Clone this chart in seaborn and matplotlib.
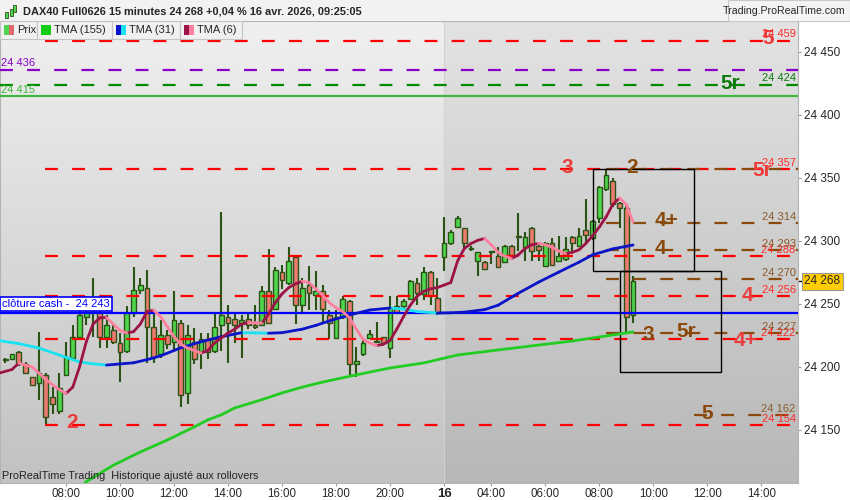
"""
DAX40 Full0626 - bougies 15 minutes avec TMA et niveaux.
"""

import numpy as np
import pandas as pd
import matplotlib
matplotlib.use('Agg')
import matplotlib.pyplot as plt
import seaborn as sns
from matplotlib.patches import Rectangle
from matplotlib.transforms import blended_transform_factory

# ---- données ----
ouverture = [24206, 24206, 24212, 24202, 24192, 24187, 24194, 24176, 24165,
             24194, 24207, 24224, 24240, 24245, 24244, 24224, 24229, 24219, 24213,
             24243, 24261, 24263, 24232, 24210, 24225, 24220, 24235, 24179, 24220,
             24212, 24222, 24213, 24233, 24240, 24238, 24235, 24238, 24233, 24233,
             24260, 24246, 24275, 24267, 24287, 24249, 24265, 24257, 24260, 24241,
             24223, 24240, 24252, 24202, 24210, 24223, 24220, 24224, 24215, 24248,
             24248, 24254, 24267, 24258, 24275, 24255, 24287, 24298, 24311, 24310,
             24294, 24284, 24283, 24291, 24288, 24283, 24296, 24303, 24295, 24310,
             24296, 24280, 24298, 24284, 24286, 24303, 24296, 24309, 24302, 24318,
             24341, 24348, 24330, 24326, 24241]
haut = [24207, 24210, 24213, 24204, 24192, 24228, 24195, 24184, 24195,
        24220, 24233, 24256, 24256, 24271, 24248, 24241, 24235, 24227, 24248,
        24279, 24271, 24277, 24245, 24237, 24229, 24260, 24237, 24233, 24231,
        24227, 24227, 24244, 24323, 24249, 24244, 24241, 24243, 24249, 24264,
        24294, 24279, 24281, 24295, 24289, 24271, 24280, 24276, 24265, 24245,
        24245, 24256, 24253, 24216, 24222, 24229, 24236, 24224, 24256, 24256,
        24254, 24269, 24271, 24279, 24276, 24271, 24319, 24309, 24320, 24310,
        24296, 24291, 24284, 24292, 24295, 24297, 24297, 24322, 24307, 24311,
        24298, 24299, 24302, 24304, 24303, 24304, 24310, 24333, 24317, 24344,
        24356, 24350, 24331, 24328, 24272]
bas = [24203, 24206, 24201, 24195, 24186, 24174, 24153, 24163, 24163,
       24193, 24206, 24223, 24233, 24224, 24215, 24215, 24218, 24188, 24211,
       24240, 24258, 24203, 24203, 24207, 24214, 24213, 24168, 24171, 24202,
       24198, 24206, 24211, 24213, 24203, 24219, 24207, 24230, 24230, 24233,
       24235, 24245, 24262, 24265, 24234, 24243, 24245, 24245, 24236, 24222,
       24222, 24238, 24194, 24192, 24209, 24222, 24219, 24218, 24207, 24243,
       24247, 24253, 24249, 24253, 24249, 24241, 24276, 24297, 24310, 24293,
       24292, 24272, 24277, 24282, 24279, 24283, 24289, 24292, 24284, 24284,
       24284, 24280, 24280, 24283, 24284, 24292, 24295, 24299, 24301, 24314,
       24340, 24327, 24310, 24227, 24235]
cloture = [24205.5, 24210, 24202, 24195, 24186, 24195, 24160, 24171, 24183,
           24208, 24224, 24241, 24244, 24252, 24224, 24233, 24220, 24212, 24243,
           24261, 24265, 24232, 24208, 24225, 24218, 24237, 24178, 24225, 24206,
           24222, 24212, 24232, 24241, 24235, 24233, 24237, 24233, 24232, 24260,
           24235, 24277, 24269, 24284, 24249, 24263, 24259, 24260, 24246, 24235,
           24240, 24254, 24202, 24205, 24219, 24226, 24221, 24219, 24247, 24244,
           24252, 24268, 24259, 24275, 24256, 24243, 24298, 24307, 24318, 24298,
           24294.5, 24291, 24278, 24292, 24279, 24296, 24289, 24304, 24303, 24292,
           24293, 24298, 24281, 24288, 24294, 24298, 24304, 24305, 24316, 24343,
           24352, 24329, 24326, 24240, 24268]
premiere_barre = -9   # bougie de 07:45 le 15

# TMA (6)
tma6_x = [-10, -8, -7, -5, -3, -1, 0, 1, 2, 3, 4, 5, 6, 7, 8, 9, 10, 11, 12, 13,
          14, 15, 16, 17, 18, 19, 20, 21, 22, 23, 24, 25, 26, 27, 28, 29, 30, 31,
          32, 33, 34, 35, 36, 37, 38, 39, 40, 41, 42, 43, 44, 45, 46, 47, 48, 49,
          50, 51, 52, 53, 54, 55, 56, 57, 58, 59, 60, 61, 62, 63, 64, 65, 66, 67,
          68, 69, 70, 71, 72, 73, 74, 75, 76, 77, 78, 79, 80, 81, 82, 83, 84]
tma6_y = [24195, 24198, 24203, 24200, 24190, 24182, 24179, 24184, 24200, 24220,
          24234, 24239, 24239.2, 24234, 24229, 24227, 24228, 24234, 24244, 24245,
          24240, 24232, 24224, 24218, 24215, 24213, 24211, 24213, 24219, 24223,
          24227, 24230, 24234, 24235.2, 24235, 24234.8, 24242, 24251, 24258, 24263,
          24266, 24268, 24267, 24262, 24257, 24251, 24247, 24244, 24239, 24230,
          24222, 24219, 24217, 24218, 24221, 24230, 24240, 24249, 24256, 24260,
          24262, 24263, 24265, 24267, 24284, 24294, 24298, 24300.5, 24302, 24297,
          24291, 24288, 24286, 24289, 24294, 24297, 24298, 24297, 24295, 24292,
          24290, 24291, 24293, 24298, 24304, 24311, 24319, 24329, 24334, 24329,
          24315]

# TMA (31)
tma31_x = [-10, -7, -4, -1, 2, 4, 6, 8, 10, 12, 14, 17, 20, 23, 26, 28, 30, 32,
           35, 37, 39, 42, 45, 48, 50, 52, 55, 57, 59, 62, 64, 67, 70, 73, 76, 78,
           81, 84]
tma31_y = [24221, 24218.5, 24215, 24209.5, 24204, 24202.5, 24201.5, 24202.4,
           24203.3, 24205.8, 24208.8, 24215.2, 24220, 24224, 24227.2, 24227.0,
           24226.8, 24227.2, 24230, 24233, 24236.5, 24241.3, 24245.2, 24246.8,
           24246.0, 24244.0, 24242.8, 24243.0, 24243.5, 24245.5, 24249, 24258.5,
           24267.3, 24275.3, 24283.2, 24289, 24293.7, 24296.8]

# TMA (155)
tma155_x = [1, 3, 7, 11, 15, 19, 21, 23, 25, 29, 32, 35, 38, 43, 48, 53, 58, 64,
            75, 84]
tma155_y = [24098, 24109, 24122, 24132.5, 24142, 24152.4, 24158, 24162, 24167.5,
            24174, 24179.4, 24184, 24188, 24193.7, 24199.2, 24203.2, 24209.5,
            24213.5, 24220.6, 24227.8]

# niveaux
niveaux_rouges = [24459, 24357, 24288, 24256, 24222, 24154]
niveaux_bruns = [24357, 24314, 24293, 24270, 24227, 24162]
debut_bruns = [80, 80, 80, 80, 80, 93]
niveau_violet = 24436
niveau_vert_tirets = 24424
niveau_vert = 24415
cloture_cash = 24243
dernier_cours = 24268

# étiquettes de zones: (texte, couleur, barre, prix)
etiquettes = [('2', 'rouge', 0.9, 24156), ('3', 'rouge', 74.2, 24358),
              ('2', 'brun', 83.9, 24358), ('5r', 'rouge', 103.1, 24356),
              ('5', 'rouge', 104.0, 24461), ('5r', 'vert', 98.4, 24425),
              ('4+', 'brun', 88.9, 24316), ('4', 'brun', 88.0, 24294),
              ('4', 'rouge', 101.0, 24257), ('3', 'brun', 86.2, 24226),
              ('5r', 'brun', 91.9, 24228), ('4+', 'rouge', 100.7, 24221),
              ('5', 'brun', 95.0, 24163)]

# zones rectangulaires: (barre début, barre fin, prix bas, prix haut)
zones = [(78.1, 93.0, 24276, 24357), (82.1, 97.0, 24196, 24276)]

heures_pos = [0, 8, 16, 24, 32, 40, 48, 56, 63, 71, 79, 87, 95, 103]
heures_txt = ['08:00', '10:00', '12:00', '14:00', '16:00', '18:00', '20:00',
              '16', '04:00', '06:00', '08:00', '10:00', '12:00', '14:00']
prix_ticks = [24150, 24200, 24250, 24300, 24350, 24400, 24450]

couleurs = {'rouge': '#ff0000', 'brun': '#8a4a0c', 'vert': '#007a00'}
couleurs_txt = {'rouge': '#ec3b3b', 'brun': '#8a4a0c', 'vert': '#0a7a0a'}

sns.set_style('white')
plt.rcParams['font.family'] = ['Liberation Sans', 'DejaVu Sans']

W, H = 850, 500
fig = plt.figure(figsize=(W / 100, H / 100), dpi=100)
fig.patch.set_facecolor('white')
ax = fig.add_axes([0, 17 / H, 798 / W, 462 / H])

x_min, x_max = -9.78, 108.44
y_min, y_max = 24107.9, 24474.6
separation = 56.0

# fond en dégradé (jour précédent plus clair)
grad = np.linspace(0, 1, 200)[:, None]
gauche = (0.94 - 0.18 * grad) * np.ones((1, 2))
droite = (0.89 - 0.17 * grad) * np.ones((1, 2))
ax.imshow(np.dstack([gauche] * 3), extent=[x_min, separation, y_min, y_max],
          aspect='auto', origin='upper', zorder=0, interpolation='bilinear')
ax.imshow(np.dstack([droite] * 3), extent=[separation, x_max, y_min, y_max],
          aspect='auto', origin='upper', zorder=0, interpolation='bilinear')
ax.axvline(separation, color='#d2d2d2', lw=0.8, zorder=0.5)

# bougies
barres = np.arange(premiere_barre, premiere_barre + len(cloture))
o = np.array(ouverture)
c = np.array(cloture)
meche = '#2b5414'
ax.vlines(barres, bas, haut, color=meche, lw=1.5, zorder=2)
bas_corps = np.minimum(o, c)
haut_corps = np.maximum(np.abs(c - o), 0.8)
coul_corps = np.where(c >= o, '#4fd64f', '#ec7a72')
ax.bar(barres, haut_corps, bottom=bas_corps, width=0.72, color=coul_corps,
       edgecolor=meche, linewidth=1.0, zorder=3)

# niveaux horizontaux
tirets = (0, (5.8, 6.4))
for niv in niveaux_rouges:
    ax.hlines(niv, -3.1, x_max, colors=couleurs['rouge'], linestyles=[tirets], lw=1.6, zorder=4)
for niv, deb in zip(niveaux_bruns, debut_bruns):
    ax.hlines(niv, deb, x_max, colors=couleurs['brun'], linestyles=[tirets], lw=1.6, zorder=4)
ax.hlines(niveau_violet, x_min, x_max, colors='#8a00c8', linestyles=[tirets], lw=1.6, zorder=4)
ax.hlines(niveau_vert_tirets, x_min, x_max, colors='#008a00', linestyles=[tirets], lw=1.6, zorder=4)
ax.axhline(niveau_vert, color='#3cb83c', lw=1.6, zorder=4)
ax.axhline(cloture_cash, color='#0000ff', lw=1.6, zorder=4)

for x0, x1, p0, p1 in zones:
    ax.add_patch(Rectangle((x0, p0), x1 - x0, p1 - p0, fill=False,
                           ec='black', lw=1.0, zorder=4.5))


# moyennes mobiles en tronçons colorés selon la pente
def troncons(xs, ys, c_hausse, c_baisse):
    lignes = []
    for k in range(len(xs) - 1):
        col = c_hausse if ys[k + 1] >= ys[k] else c_baisse
        lignes.append((k, xs[k], ys[k], col))
        lignes.append((k, xs[k + 1], ys[k + 1], col))
    return pd.DataFrame(lignes, columns=['seg', 'x', 'y', 'couleur'])


for xs, ys, ch, cb in [(tma155_x, tma155_y, '#22cc22', '#22cc22'),
                       (tma31_x, tma31_y, '#0a14c8', '#19e3f2'),
                       (tma6_x, tma6_y, '#9c1447', '#ff7f9f')]:
    df = troncons(xs, ys, ch, cb)
    sns.lineplot(data=df, x='x', y='y', units='seg', estimator=None, hue='couleur',
                 palette={ch: ch, cb: cb}, legend=False, lw=2.0, sort=False,
                 ax=ax, zorder=5, solid_capstyle='round')

# grandes étiquettes
for txt, col, b, p in etiquettes:
    ax.text(b, p, txt, color=couleurs_txt[col], fontsize=15, fontweight='bold',
            ha='center', va='center', zorder=6)


# étiquettes de prix à droite des niveaux
def fmt(v):
    return f'{int(v) // 1000} {int(v) % 1000:03d}'


for niv in niveaux_rouges:
    ax.text(108.1, niv + 1.0, fmt(niv), color='#ff2a2a', fontsize=8,
            ha='right', va='bottom', zorder=6)
for niv in niveaux_bruns[1:]:
    ax.text(108.1, niv + 1.0, fmt(niv), color='#8a5a2a', fontsize=8,
            ha='right', va='bottom', zorder=6)
ax.text(108.1, niveau_vert_tirets + 1.0, fmt(niveau_vert_tirets), color='#0a7a0a',
        fontsize=8, ha='right', va='bottom', zorder=6)
ax.text(x_min + 0.2, niveau_violet + 1.0, fmt(niveau_violet), color='#8a00c8',
        fontsize=8, ha='left', va='bottom', zorder=6)
ax.text(x_min + 0.2, niveau_vert + 1.0, fmt(niveau_vert), color='#3cb83c',
        fontsize=8, ha='left', va='bottom', zorder=6)
ax.text(x_min + 0.3, cloture_cash + 2.8, 'clôture cash -  ' + fmt(cloture_cash),
        color='#0000ff', fontsize=8, ha='left', va='bottom', zorder=7,
        bbox=dict(boxstyle='square,pad=0.2', fc='white', ec='#0000ff', lw=1.2))

ax.text(0.003, 7 / 462, 'ProRealTime Trading  Historique ajusté aux rollovers',
        transform=ax.transAxes, fontsize=7.8, color='#222222', va='center', zorder=7)

# axes
ax.set_xlim(x_min, x_max)
ax.set_ylim(y_min, y_max)
ax.set_xticks(heures_pos)
ax.set_xticklabels(heures_txt, fontsize=8.3)
for lab in ax.get_xticklabels():
    if lab.get_text() == '16':
        lab.set_fontweight('bold')
        lab.set_fontsize(9.5)
ax.yaxis.tick_right()
ax.set_yticks(prix_ticks)
ax.set_yticklabels([fmt(v) for v in prix_ticks], fontsize=8.5)
ax.tick_params(axis='both', length=2.5, width=0.8, color='#999999', pad=1,
               bottom=True, right=True, left=False)
ax.tick_params(axis='y', pad=2)
ax.set_xlabel('')
ax.set_ylabel('')
for s in ax.spines.values():
    s.set_color('#b4b4b4')
    s.set_linewidth(0.8)

tr = blended_transform_factory(ax.transAxes, ax.transData)
ax.plot([1.0, 1.007], [dernier_cours, dernier_cours], color='black', lw=1,
        transform=tr, clip_on=False)
ax.text(1.008, dernier_cours, fmt(dernier_cours), transform=tr, fontsize=8.5,
        va='center', ha='left', zorder=8,
        bbox=dict(boxstyle='square,pad=0.2', fc='#ffcc00', ec='#999999', lw=0.8))


# en-tête
def px(x, y):
    return x / W, 1 - y / H


fig.patches.append(Rectangle(px(0, 21), 1, 21 / H, transform=fig.transFigure,
                             fc='#f2f2f2', ec='none', zorder=0))
fig.text(*px(23, 11), 'DAX40 Full0626 15 minutes 24 268 +0,04 % 16 avr. 2026, 09:25:05',
         fontsize=7.9, fontweight='bold', va='center', ha='left')
for xx, y0, y1 in [(6, 12, 18), (11, 9, 16), (15, 5, 12)]:
    fig.patches.append(Rectangle(px(xx - 1.5, y1), 3 / W, (y1 - y0) / H,
                                 transform=fig.transFigure, fc='#4fd64f',
                                 ec='#2b5414', lw=0.6))
fig.patches.append(Rectangle(px(728, 21), 122 / W, 21 / H, transform=fig.transFigure,
                             fc='#f4f4f4', ec='#c8c8c8', lw=0.8))
fig.text(*px(845, 11), 'Trading.ProRealTime.com', fontsize=7.6, va='center', ha='right')

# légende
boites = [('Prix', 0, 37, ('#4fd64f', '#e06a6a')),
          ('TMA (155)', 37, 112, ('#11cc11', '#11cc11')),
          ('TMA (31)', 112, 180, ('#0a14c8', '#19e3f2')),
          ('TMA (6)', 180, 242, ('#9c1447', '#ff7f9f'))]
for nom, x0, x1, (c1, c2) in boites:
    fig.patches.append(Rectangle(px(x0, 39), (x1 - x0) / W, 18 / H,
                                 transform=fig.transFigure, fc='#f0f0f0',
                                 ec='#c4c4c4', lw=0.8, zorder=5))
    fig.patches.append(Rectangle(px(x0 + 4, 35), 5 / W, 10 / H, transform=fig.transFigure,
                                 fc=c1, ec='none', zorder=6))
    fig.patches.append(Rectangle(px(x0 + 9, 35), 5 / W, 10 / H, transform=fig.transFigure,
                                 fc=c2, ec='none', zorder=6))
    fig.text(*px(x0 + 17, 30), nom, fontsize=8, va='center', ha='left', zorder=7)

fig.savefig('out.png', dpi=100, facecolor='white')
